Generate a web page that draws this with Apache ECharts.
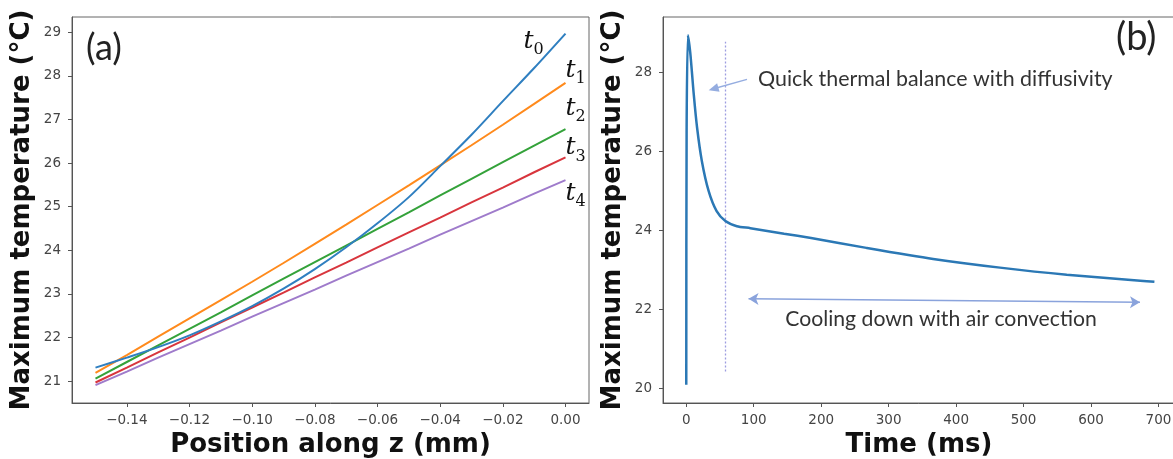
<!DOCTYPE html>
<html>
<head>
<meta charset="utf-8">
<script src="https://cdn.jsdelivr.net/npm/echarts@6/dist/echarts.min.js"></script>
<style>
html,body{margin:0;padding:0;background:#fff;}
#chart{width:1173px;height:459px;}
</style>
</head>
<body>
<div id="chart"></div>
<script>
// ---- Panel (a) data ----
const zPos = [-0.15,-0.14,-0.13,-0.12,-0.11,-0.10,-0.09,-0.08,-0.07,-0.06,-0.05,-0.04,-0.03,-0.02,-0.01,0.00];
const tempT0 = [21.31,21.54,21.78,22.05,22.37,22.72,23.12,23.57,24.07,24.62,25.22,25.93,26.65,27.42,28.18,28.97];
const tempT1 = [21.19,21.60,22.02,22.44,22.86,23.28,23.71,24.15,24.59,25.04,25.49,25.95,26.41,26.88,27.36,27.84];
const tempT2 = [21.06,21.44,21.82,22.20,22.58,22.97,23.35,23.73,24.11,24.49,24.87,25.26,25.64,26.02,26.40,26.78];
const tempT3 = [20.97,21.31,21.66,22.00,22.35,22.69,23.03,23.38,23.72,24.07,24.41,24.75,25.10,25.44,25.79,26.13];
const tempT4 = [20.91,21.22,21.54,21.85,22.16,22.48,22.79,23.10,23.42,23.73,24.04,24.36,24.67,24.98,25.30,25.61];
const curveNames = ['t0','t1','t2','t3','t4'];
const zTicks = [-0.14,-0.12,-0.10,-0.08,-0.06,-0.04,-0.02,0.00];
const tempTicksA = [21,22,23,24,25,26,27,28,29];

// ---- Panel (b) data ----
const timeMs  = [0,    0.5,  2.5,  6,    11,   16,   23,   33,   45,   58,   75,   95,   145,  185,  267,  366,  465,  564,  673,  694];
const tempMax = [20.08,26.5, 28.94,28.48,27.46,26.60,25.76,25.00,24.48,24.23,24.10,24.05,23.91,23.80,23.55,23.27,23.05,22.87,22.72,22.69];
const timeTicks = [0,100,200,300,400,500,600,700];
const tempTicksB = [20,22,24,26,28];
const dividerTime = 58;

const colorsA = ['#2f7fc0','#ff8a1c','#34a23a','#d8353d','#9f7bcb'];
const seriesA = [tempT0,tempT1,tempT2,tempT3,tempT4];

const chart = echarts.init(document.getElementById('chart'));
const tickFont = {fontFamily:'DejaVu Sans', fontSize:13.5, color:'#444'};
const titleFont = {fontFamily:'DejaVu Sans', fontSize:26, fontWeight:'bold', color:'#111'};
const axisLine = {show:true, onZero:false, lineStyle:{color:'#555', width:1}};
const fmtZ = v => (v < -1e-9 ? '\u2212' : '') + Math.abs(v).toFixed(2);

const option = {
  animation:false,
  grid:[
    {left:72, top:17, width:517, height:386, show:true, borderColor:'#666', borderWidth:1, containLabel:false, outerBoundsMode:'none'},
    {left:663, top:17, width:512, height:386, show:true, borderColor:'#666', borderWidth:1, containLabel:false, outerBoundsMode:'none'}
  ],
  xAxis:[
    {type:'value', gridIndex:0, min:-0.1575, max:0.0075,
     axisLine:axisLine, splitLine:{show:false},
     axisTick:{show:true, length:4, lineStyle:{color:'#555'}, customValues:zTicks},
     axisLabel:Object.assign({margin:10, customValues:zTicks, formatter:fmtZ}, tickFont),
     name:'Position along z (mm)', nameLocation:'middle', nameGap:29, nameTextStyle:titleFont},
    {type:'value', gridIndex:1, min:-34.5, max:724.5,
     axisLine:axisLine, splitLine:{show:false},
     axisTick:{show:true, length:4, lineStyle:{color:'#555'}, customValues:timeTicks},
     axisLabel:Object.assign({margin:10, customValues:timeTicks}, tickFont),
     name:'Time (ms)', nameLocation:'middle', nameGap:29, nameTextStyle:titleFont}
  ],
  yAxis:[
    {type:'value', gridIndex:0, min:20.5, max:29.35,
     axisLine:axisLine, splitLine:{show:false},
     axisTick:{show:true, length:4, lineStyle:{color:'#555'}, customValues:tempTicksA},
     axisLabel:Object.assign({margin:11, customValues:tempTicksA}, tickFont),
     name:'Maximum temperature (°C)', nameLocation:'middle', nameGap:37, nameTextStyle:titleFont},
    {type:'value', gridIndex:1, min:19.62, max:29.4,
     axisLine:axisLine, splitLine:{show:false},
     axisTick:{show:true, length:4, lineStyle:{color:'#555'}, customValues:tempTicksB},
     axisLabel:Object.assign({margin:11, customValues:tempTicksB}, tickFont),
     name:'Maximum temperature (°C)', nameLocation:'middle', nameGap:37, nameTextStyle:titleFont}
  ],
  series: seriesA.map((arr,k)=>({
    name:curveNames[k], type:'line', xAxisIndex:0, yAxisIndex:0,
    data: zPos.map((z,i)=>[z,arr[i]]), showSymbol:false, smooth:(k===0 ? 0.3 : false),
    lineStyle:{width:2, color:colorsA[k]}, itemStyle:{color:colorsA[k]}, z:10-k
  })).concat([{
    name:'max temp', type:'line', xAxisIndex:1, yAxisIndex:1,
    data: timeMs.map((t,i)=>[t,tempMax[i]]), showSymbol:false, smooth:0.25,
    lineStyle:{width:2.5, color:'#2b78b5'}, itemStyle:{color:'#2b78b5'}, z:10,
    markLine:{
      silent:true, animation:false, label:{show:false},
      data:[
        [{coord:[dividerTime,20.42], symbol:'none', lineStyle:{type:[2,2], color:'#9d9de0', width:1.3}},
         {coord:[dividerTime,28.77], symbol:'none'}],
        [{coord:[90,27.82], symbol:'none', lineStyle:{type:'solid', color:'#95ade0', width:1.5}},
         {coord:[40.4,27.58], symbol:'triangle', symbolSize:[9,10]}],
        [{coord:[92.3,22.26], symbol:'arrow', symbolSize:[9,10], lineStyle:{type:'solid', color:'#8aa3dc', width:1.5}},
         {coord:[672.6,22.17], symbol:'arrow', symbolSize:[9,10]}]
      ]
    }
  }])
};
chart.setOption(option);

// ---- annotations ----
const g = [];
g.push({type:'text', left:86, top:30, style:{text:'(a)', fontFamily:'Lato', fontSize:36, fill:'#222'}});
g.push({type:'text', left:1116, top:19, style:{text:'(b)', fontFamily:'Lato', fontSize:38, fill:'#222'}});
g.push({type:'text', x:758, y:79, style:{text:'Quick thermal balance with diffusivity', fontFamily:'Lato', fontSize:21.4, fill:'#333', textVerticalAlign:'middle'}});
g.push({type:'text', x:941, y:319, style:{text:'Cooling down with air convection', fontFamily:'Lato', fontSize:21.2, fill:'#333', textAlign:'center', textVerticalAlign:'middle'}});
// t labels positioned relative to each curve's end point
const tOffsets = [[-42,20],[0,0],[0,-8],[0,3],[0,26]];
seriesA.forEach((arr,k)=>{
  const p = chart.convertToPixel({gridIndex:0}, [zPos[zPos.length-1], arr[arr.length-1]]);
  const bx = p[0] + tOffsets[k][0], by = p[1] + tOffsets[k][1];
  g.push({type:'text', x:bx, y:by, style:{text:'t', fontFamily:'DejaVu Serif', fontStyle:'italic', fontSize:25, fill:'#111', textVerticalAlign:'bottom'}});
  g.push({type:'text', x:bx+10, y:by+4, style:{text:curveNames[k].slice(1), fontFamily:'DejaVu Serif', fontSize:16, fill:'#111', textVerticalAlign:'bottom'}});
});
chart.setOption({graphic:g});
</script>
</body>
</html>
